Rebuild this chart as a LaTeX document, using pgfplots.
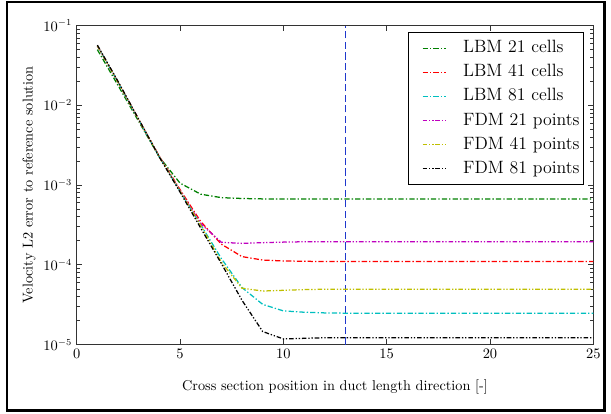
\documentclass[border=0pt]{standalone}
\usepackage{pgfplots}
\usepackage{pgfplotstable}
\pgfplotsset{compat=1.18}

\definecolor{mgreen}{rgb}{0.0,0.5,0.0}
\definecolor{mred}{rgb}{1.0,0.0,0.0}
\definecolor{mcyan}{rgb}{0.0,0.75,0.75}
\definecolor{mmag}{rgb}{0.75,0.0,0.75}
\definecolor{myel}{rgb}{0.75,0.75,0.0}
\definecolor{vblue}{rgb}{0.12,0.22,0.8}

\pgfplotstableread{
x   g        r        c        m        y        k
1   0.050    0.056    0.056    0.056    0.056    0.057
2   0.0178   0.0196   0.0195   0.0195   0.0195   0.0200
3   6.3e-3   6.7e-3   6.6e-3   6.6e-3   6.6e-3   6.7e-3
4   2.25e-3  2.3e-3   2.25e-3  2.25e-3  2.25e-3  2.25e-3
5   1.06e-3  8.8e-4   8.4e-4   8.5e-4   8.4e-4   8.2e-4
6   7.7e-4   3.5e-4   3.2e-4   3.3e-4   3.15e-4  2.9e-4
7   6.97e-4  1.82e-4  1.2e-4   1.92e-4  1.08e-4  1.04e-4
8   6.8e-4   1.27e-4  5.2e-5   1.86e-4  5.1e-5   3.6e-5
9   6.72e-4  1.15e-4  3.2e-5   1.9e-4   4.7e-5   1.46e-5
10  6.7e-4   1.12e-4  2.65e-5  1.93e-4  4.8e-5   1.18e-5
11  6.7e-4   1.11e-4  2.55e-5  1.95e-4  4.9e-5   1.2e-5
12  6.7e-4   1.10e-4  2.5e-5   1.95e-4  4.95e-5  1.22e-5
13  6.7e-4   1.10e-4  2.48e-5  1.95e-4  4.95e-5  1.22e-5
14  6.7e-4   1.10e-4  2.48e-5  1.95e-4  4.95e-5  1.22e-5
15  6.7e-4   1.10e-4  2.48e-5  1.95e-4  4.95e-5  1.22e-5
16  6.7e-4   1.10e-4  2.48e-5  1.95e-4  4.95e-5  1.22e-5
17  6.7e-4   1.10e-4  2.48e-5  1.95e-4  4.95e-5  1.22e-5
18  6.7e-4   1.10e-4  2.48e-5  1.95e-4  4.95e-5  1.22e-5
19  6.7e-4   1.10e-4  2.48e-5  1.95e-4  4.95e-5  1.22e-5
20  6.7e-4   1.10e-4  2.48e-5  1.95e-4  4.95e-5  1.22e-5
21  6.7e-4   1.10e-4  2.48e-5  1.95e-4  4.95e-5  1.22e-5
22  6.7e-4   1.10e-4  2.48e-5  1.95e-4  4.95e-5  1.22e-5
23  6.7e-4   1.10e-4  2.48e-5  1.95e-4  4.95e-5  1.22e-5
24  6.7e-4   1.10e-4  2.48e-5  1.95e-4  4.95e-5  1.22e-5
25  6.7e-4   1.10e-4  2.48e-5  1.95e-4  4.95e-5  1.22e-5
}\datatable

\tikzset{
  lbm/.style={line width=0.95pt, dash pattern=on 4pt off 1.6pt on 1pt off 1.6pt},
  fdm/.style={line width=0.95pt, dash pattern=on 3.5pt off 1.4pt on 1pt off 1.4pt on 1pt off 1.4pt},
}

\begin{document}
\begin{tikzpicture}
\path[use as bounding box] (-58.1pt,-52.5pt) rectangle (404.8pt,261.1pt);
\draw[line width=1.8pt, black] (-52.8pt,-49.9pt) rectangle (399.9pt,259.6pt);
\begin{axis}[
  at={(0pt,0pt)}, anchor=south west,
  scale only axis,
  width=391.4pt, height=241.7pt,
  ymode=log,
  xmin=0, xmax=25, ymin=1e-5, ymax=1e-1,
  xtick={0,5,10,15,20,25},
  ytick={1e-5,1e-4,1e-3,1e-2,1e-1},
  tick align=inside,
  major tick length=4pt,
  minor tick length=2.2pt,
  axis line style={black!80, line width=0.9pt},
  every tick/.style={black!80, line width=0.6pt},
  tick label style={font=\fontsize{10.5}{12}\selectfont},
  xlabel={Cross section position in duct length direction [-]},
  ylabel={Velocity L2 error to reference solution},
  xlabel style={font=\fontsize{10.8}{13}\selectfont, at={(axis description cs:0.5,0)}, anchor=center, yshift=-32pt},
  ylabel style={font=\fontsize{10.8}{13}\selectfont, at={(axis description cs:0,0.5)}, anchor=center, yshift=36pt},
  legend cell align=left,
  legend style={at={(rel axis cs:1,1)}, anchor=north east, xshift=-7pt, yshift=-5pt,
    draw=black, line width=0.8pt, fill=white,
    font=\fontsize{13.5}{15}\selectfont,
    inner xsep=2pt, inner ysep=5pt,
    row sep=4.2pt,
    nodes={inner sep=1pt, text height=9.3pt, text depth=2.7pt},
  },
  legend image code/.code={\path (0pt,0pt); \draw[#1, line width=1pt] (8pt,0pt) -- (25.7pt,0pt);},
]
\addplot[vblue, line width=1.1pt, dash pattern=on 5.5pt off 2.5pt, forget plot] coordinates {(13,1e-5) (13,1e-1)};
\addplot[mgreen, lbm] table[x=x, y=g] {\datatable};
\addlegendentry{\hspace{11.5pt}LBM 21 cells}
\addplot[mred, lbm] table[x=x, y=r] {\datatable};
\addlegendentry{\hspace{11.5pt}LBM 41 cells}
\addplot[mcyan, lbm] table[x=x, y=c] {\datatable};
\addlegendentry{\hspace{11.5pt}LBM 81 cells}
\addplot[mmag, fdm] table[x=x, y=m] {\datatable};
\addlegendentry{\hspace{11.5pt}FDM 21 points}
\addplot[myel, fdm] table[x=x, y=y] {\datatable};
\addlegendentry{\hspace{11.5pt}FDM 41 points}
\addplot[black, fdm] table[x=x, y=k] {\datatable};
\addlegendentry{\hspace{11.5pt}FDM 81 points}
\end{axis}
\end{tikzpicture}
\end{document}
